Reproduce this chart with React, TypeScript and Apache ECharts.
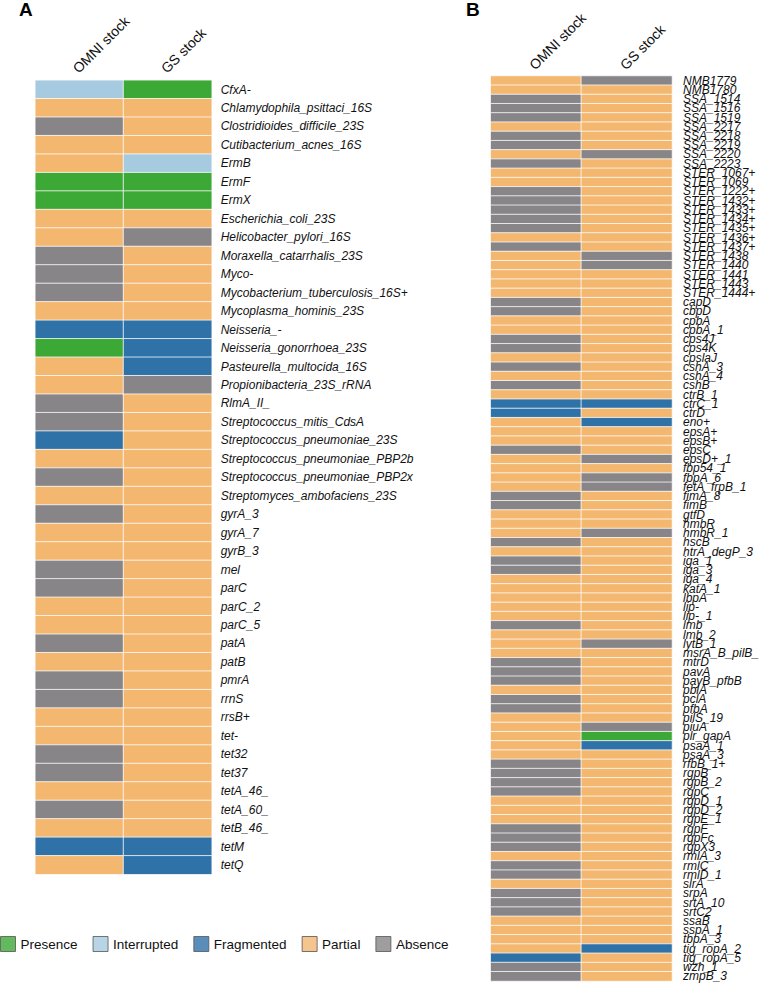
import React, { useEffect, useRef } from "react";
import * as echarts from "echarts";

const STATUS_NAMES = ["Presence", "Interrupted", "Fragmented", "Partial", "Absence"];
const STATUS_CODES = ["Pr", "I", "F", "P", "A"];
const STATUS_COLORS = ["#3ca836", "#a6cbe0", "#2e72a8", "#f3b770", "#878588"];
const COLUMNS = ["OMNI stock", "GS stock"];

const genesA = [
  "CfxA-", "Chlamydophila_psittaci_16S", "Clostridioides_difficile_23S", "Cutibacterium_acnes_16S",
  "ErmB", "ErmF", "ErmX", "Escherichia_coli_23S", "Helicobacter_pylori_16S", "Moraxella_catarrhalis_23S",
  "Myco-", "Mycobacterium_tuberculosis_16S+", "Mycoplasma_hominis_23S", "Neisseria_-",
  "Neisseria_gonorrhoea_23S", "Pasteurella_multocida_16S", "Propionibacteria_23S_rRNA", "RlmA_II_",
  "Streptococcus_mitis_CdsA", "Streptococcus_pneumoniae_23S", "Streptococcus_pneumoniae_PBP2b",
  "Streptococcus_pneumoniae_PBP2x", "Streptomyces_ambofaciens_23S", "gyrA_3", "gyrA_7", "gyrB_3",
  "mel", "parC", "parC_2", "parC_5", "patA", "patB", "pmrA", "rrnS", "rrsB+", "tet-", "tet32",
  "tet37", "tetA_46_", "tetA_60_", "tetB_46_", "tetM", "tetQ",
];
const omniA = [
  "I", "P", "A", "P", "P", "Pr", "Pr", "P", "P", "A",
  "A", "A", "P", "F", "Pr", "P", "P", "A", "A", "F",
  "P", "A", "P", "A", "P", "P", "A", "A", "P", "P",
  "A", "P", "A", "A", "P", "P", "A", "A", "P", "A",
  "P", "F", "P",
];
const gsA = [
  "Pr", "P", "P", "P", "I", "Pr", "Pr", "P", "A", "P",
  "P", "P", "P", "F", "F", "F", "A", "P", "P", "P",
  "P", "P", "P", "P", "P", "P", "P", "P", "P", "P",
  "P", "P", "P", "P", "P", "P", "P", "P", "P", "P",
  "P", "F", "F",
];

const genesB = [
  "NMB1779", "NMB1780", "SSA_1514", "SSA_1516", "SSA_1519", "SSA_2217", "SSA_2218", "SSA_2219",
  "SSA_2220", "SSA_2223", "STER_1067+", "STER_1069", "STER_1222+", "STER_1432+", "STER_1433+",
  "STER_1434+", "STER_1435+", "STER_1436+", "STER_1437+", "STER_1438", "STER_1440", "STER_1441",
  "STER_1443", "STER_1444+", "capD", "cbpD", "cpbA", "cpbA_1", "cps4J", "cps4K", "cpslaJ",
  "cshA_3", "cshA_4", "cshB", "ctrB_1", "ctrC_1", "ctrD", "eno+", "epsA+", "epsB+", "epsC",
  "epsD+_1", "fbp54_1", "fbpA_6", "fetA_frpB_1", "fimA_8", "fimB", "gtfD", "hmbR", "hmbR_1",
  "hscB", "htrA_degP_3", "iga_1", "iga_3", "iga_4", "katA_1", "lbpA", "lip-", "lip-_1", "lmb",
  "lmb_2", "lytB_1", "msrA_B_pilB_", "mtrD", "pavA", "payB_pfbB", "pblA", "pclA", "pfbA",
  "pilS_19", "piuA", "plr_gapA", "psaA_1", "psaA_3", "rfbB_1+", "rgpB", "rgpB_2", "rgpC",
  "rgpD_1", "rgpD_2", "rgpE_1", "rgpF", "rgpFc", "rgpX3", "rmlA_3", "rmlC", "rmlD_1", "slrA",
  "srpA", "srtA_10", "srtC2", "ssaB", "sspA_1", "tbpA_3", "tig_ropA_2", "tig_ropA_5", "wzh_1",
  "zmpB_3",
];
const omniB = [
  "P", "P", "A", "A", "A", "P", "A", "A", "P", "A",
  "P", "P", "A", "A", "A", "A", "A", "P", "A", "P",
  "P", "P", "P", "P", "A", "A", "P", "P", "A", "A",
  "P", "A", "P", "A", "P", "F", "F", "P", "P", "P",
  "A", "P", "P", "P", "P", "A", "A", "P", "P", "P",
  "A", "P", "A", "A", "P", "P", "P", "P", "P", "A",
  "P", "P", "P", "A", "A", "A", "P", "A", "A", "P",
  "P", "P", "P", "P", "A", "A", "A", "A", "P", "P",
  "P", "A", "A", "A", "P", "A", "A", "P", "A", "A",
  "A", "P", "P", "P", "P", "F", "A", "A",
];
const gsB = [
  "A", "P", "P", "P", "P", "P", "P", "P", "A", "P",
  "P", "P", "P", "P", "P", "P", "P", "P", "P", "A",
  "A", "P", "P", "P", "P", "P", "P", "P", "P", "P",
  "P", "P", "P", "P", "P", "F", "P", "F", "P", "P",
  "P", "A", "P", "A", "A", "P", "P", "P", "P", "A",
  "P", "P", "P", "P", "P", "P", "P", "P", "P", "P",
  "P", "A", "P", "P", "P", "P", "P", "P", "P", "P",
  "A", "Pr", "F", "P", "P", "P", "P", "P", "P", "P",
  "P", "P", "P", "P", "P", "P", "P", "P", "P", "P",
  "P", "P", "P", "P", "F", "P", "P", "P",
];

const FONT = "'Liberation Sans', Arial, Helvetica, sans-serif";

function toCells(omni: string[], gs: string[]) {
  const out: number[][] = [];
  omni.forEach((c, i) => out.push([0, i, STATUS_CODES.indexOf(c)]));
  gs.forEach((c, i) => out.push([1, i, STATUS_CODES.indexOf(c)]));
  return out;
}

export default function App() {
  const ref = useRef<HTMLDivElement>(null);
  useEffect(() => {
    document.body.style.margin = "0";
    const chart = echarts.init(ref.current!, null, { renderer: "svg" });
    const xAxisBase = (gridIndex: number, margin: number) => ({
      type: "category",
      gridIndex,
      data: COLUMNS,
      position: "top",
      axisLine: { show: false },
      axisTick: { show: false },
      splitLine: { show: false },
      axisLabel: {
        rotate: -45,
        interval: 0,
        fontSize: 14,
        color: "#111",
        fontFamily: FONT,
        margin,
        padding: [0, 0, 0, -6],
      },
    });
    const yAxisBase = (gridIndex: number, data: string[], margin: number) => ({
      type: "category",
      gridIndex,
      data,
      inverse: true,
      position: "right",
      axisLine: { show: false },
      axisTick: { show: false },
      splitLine: { show: false },
      axisLabel: { interval: 0, fontSize: 12, fontStyle: "italic", color: "#111", fontFamily: FONT, margin },
    });
    const cellStyle = { borderColor: "rgba(255,255,255,0.75)", borderWidth: 1 };
    chart.setOption({
      animation: false,
      backgroundColor: "#fff",
      grid: [
        { left: 35.3, top: 80.3, width: 176.4, height: 794 },
        { left: 490.7, top: 76, width: 182, height: 905 },
      ],
      xAxis: [xAxisBase(0, 14), xAxisBase(1, 13)],
      yAxis: [yAxisBase(0, genesA, 9), yAxisBase(1, genesB, 11)],
      visualMap: {
        show: false,
        type: "piecewise",
        dimension: 2,
        seriesIndex: [0, 1],
        pieces: STATUS_COLORS.map((color, i) => ({ value: i, color })),
      },
      legend: {
        left: 0,
        top: 936,
        orient: "horizontal",
        icon: "rect",
        itemWidth: 15,
        itemHeight: 15,
        itemGap: 15,
        padding: 0,
        selectedMode: false,
        itemStyle: { borderColor: "#555", borderWidth: 1 },
        textStyle: { fontSize: 13.5, color: "#111", fontFamily: FONT },
        data: STATUS_NAMES,
      },
      graphic: [
        { type: "text", left: 19, top: 0, style: { text: "A", font: `bold 19px ${FONT}`, fill: "#000" } },
        { type: "text", left: 466, top: 0, style: { text: "B", font: `bold 19px ${FONT}`, fill: "#000" } },
      ],
      series: [
        { type: "heatmap", xAxisIndex: 0, yAxisIndex: 0, data: toCells(omniA, gsA), itemStyle: cellStyle },
        { type: "heatmap", xAxisIndex: 1, yAxisIndex: 1, data: toCells(omniB, gsB), itemStyle: cellStyle },
        ...STATUS_NAMES.map((name, i) => ({
          type: "scatter",
          name,
          xAxisIndex: 0,
          yAxisIndex: 0,
          data: [],
          itemStyle: { color: STATUS_COLORS[i] },
        })),
      ],
    });
    return () => chart.dispose();
  }, []);
  return <div ref={ref} style={{ width: 762, height: 983 }} />;
}
